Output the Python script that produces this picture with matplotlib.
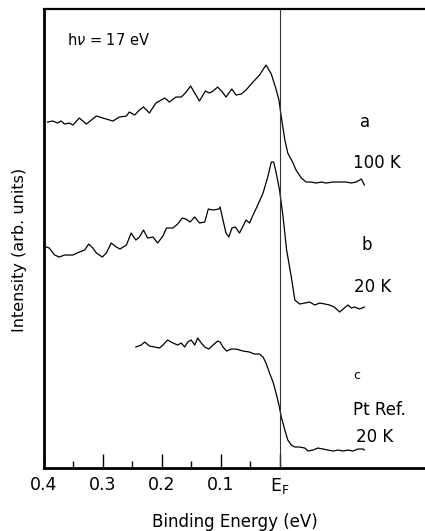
import numpy as np
import matplotlib
matplotlib.use("Agg")
import matplotlib.pyplot as plt

# Binding energy (eV) and intensity (arb. units)
e_a = [0.394, 0.385, 0.377, 0.371, 0.365, 0.357, 0.351, 0.340, 0.328, 0.311,
       0.300, 0.283, 0.272, 0.260, 0.255, 0.246, 0.238, 0.231, 0.221, 0.210,
       0.195, 0.187, 0.176, 0.167, 0.160, 0.151, 0.144, 0.136, 0.126, 0.119,
       0.113, 0.105, 0.097, 0.091, 0.081, 0.074, 0.065, 0.057, 0.045, 0.034,
       0.023, 0.014, 0.007, 0.001, -0.003, -0.009, -0.014, -0.023, -0.028,
       -0.037, -0.045, -0.054, -0.062, -0.071, -0.079, -0.091, -0.102, -0.113,
       -0.122, -0.130, -0.139, -0.144]
i_a = [346, 347, 345, 347, 344, 345, 343, 350, 344, 352,
       350, 347, 351, 352, 356, 353, 358, 361, 355, 365,
       370, 366, 371, 371, 375, 382, 375, 367, 377, 375,
       377, 381, 376, 371, 379, 373, 374, 378, 386, 393,
       403, 394, 381, 368, 351, 328, 315, 305, 298,
       290, 286, 286, 285, 286, 285, 286, 286, 286,
       285, 286, 289, 283]

e_b = [0.396, 0.391, 0.382, 0.374, 0.365, 0.351, 0.340, 0.331, 0.324, 0.317,
       0.311, 0.301, 0.294, 0.286, 0.277, 0.271, 0.260, 0.252, 0.244, 0.238,
       0.231, 0.224, 0.215, 0.207, 0.198, 0.192, 0.181, 0.173, 0.165, 0.159,
       0.152, 0.144, 0.136, 0.127, 0.121, 0.113, 0.103, 0.101, 0.096, 0.091,
       0.086, 0.081, 0.075, 0.068, 0.061, 0.057, 0.051, 0.045, 0.037, 0.028,
       0.020, 0.014, 0.010, 0.006, 0.000, -0.006, -0.012, -0.020, -0.026,
       -0.034, -0.043, -0.051, -0.060, -0.068, -0.077, -0.085, -0.093, -0.102,
       -0.110, -0.116, -0.122, -0.127, -0.136, -0.144]
i_b = [221, 220, 213, 211, 213, 213, 216, 218, 224, 220,
       215, 211, 215, 225, 221, 219, 223, 235, 228, 231,
       238, 230, 231, 225, 232, 240, 240, 244, 250, 249,
       246, 251, 245, 246, 259, 258, 259, 261, 248, 235,
       231, 240, 241, 235, 243, 248, 245, 253, 263, 275,
       291, 306, 306, 296, 278, 251, 218, 191, 168,
       164, 165, 166, 163, 165, 164, 163, 161, 156,
       160, 163, 160, 161, 159, 161]

e_c = [0.244, 0.235, 0.229, 0.221, 0.212, 0.204, 0.198, 0.190, 0.181, 0.173,
       0.167, 0.161, 0.156, 0.150, 0.144, 0.139, 0.133, 0.127, 0.120, 0.113,
       0.105, 0.101, 0.096, 0.090, 0.082, 0.074, 0.062, 0.051, 0.043, 0.034,
       0.028, 0.023, 0.017, 0.011, 0.006, 0.001, -0.003, -0.009, -0.014,
       -0.020, -0.026, -0.034, -0.043, -0.048, -0.057, -0.065, -0.074, -0.082,
       -0.091, -0.099, -0.108, -0.116, -0.125, -0.133, -0.142, -0.144]
i_c = [121, 123, 126, 122, 121, 120, 123, 128, 125, 123,
       125, 121, 126, 128, 123, 130, 125, 121, 119, 123,
       127, 126, 121, 117, 119, 119, 117, 116, 114, 114,
       111, 105, 95, 86, 75, 63, 51, 38, 28,
       23, 21, 21, 20, 17, 18, 20, 19, 18,
       17, 18, 17, 18, 17, 19, 19, 18]

major_ticks = [0.4, 0.3, 0.2, 0.1, 0.0]
major_labels = ['0.4', '0.3', '0.2', '0.1', r'E$_\mathrm{F}$']
minor_ticks = [0.35, 0.25, 0.15, 0.05]

fig = plt.figure(figsize=(4.25, 5.31), dpi=100)
ax = fig.add_axes([0.1035, 0.1186, 0.8965, 0.8644])

for e, i in [(e_a, i_a), (e_b, i_b), (e_c, i_c)]:
    ax.plot(e, i, color='black', linewidth=0.9)

ax.axvline(0.0, color='#333333', linewidth=0.8)

ax.set_xlim(0.4, -0.247)
ax.set_ylim(0, 459)

ax.spines['right'].set_visible(False)
ax.spines['left'].set_linewidth(2.0)
ax.spines['bottom'].set_linewidth(2.0)
ax.spines['top'].set_linewidth(1.6)

ax.set_xticks(major_ticks)
ax.set_xticklabels(major_labels, fontsize=12.5)
ax.set_xticks(minor_ticks, minor=True)
ax.tick_params(axis='x', which='major', direction='in', length=10, width=1.0, pad=6)
ax.tick_params(axis='x', which='minor', direction='in', length=5, width=1.0)
ax.set_yticks([])

ax.set_xlabel('Binding Energy (eV)', fontsize=12, labelpad=12)
ax.set_ylabel('Intensity (arb. units)', fontsize=11.5)
ax.yaxis.set_label_coords(-0.045, 0.475)

ax.text(0.40 - 0.039, 428, r'h$\nu$ = 17 eV', fontsize=10.5, va='center')
ax.text(-0.145, 346, 'a', fontsize=12, ha='center', va='center')
ax.text(-0.165, 305, '100 K', fontsize=12, ha='center', va='center')
ax.text(-0.148, 223, 'b', fontsize=12, ha='center', va='center')
ax.text(-0.158, 181, '20 K', fontsize=12, ha='center', va='center')
ax.text(-0.131, 93, 'c', fontsize=9, ha='center', va='center')
ax.text(-0.170, 58, 'Pt Ref.', fontsize=12, ha='center', va='center')
ax.text(-0.161, 31, '20 K', fontsize=12, ha='center', va='center')

fig.savefig('out.png', dpi=100)
